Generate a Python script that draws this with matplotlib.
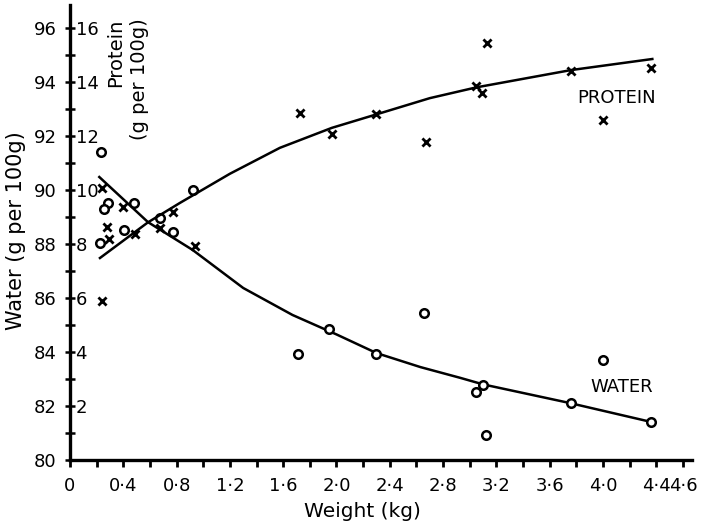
import numpy as np
import matplotlib
matplotlib.use("Agg")
import matplotlib.pyplot as plt

plt.rcParams['font.family'] = ['DejaVu Sans']

# water (g per 100g), open circles
water_w = [0.23, 0.285, 0.255, 0.48, 0.405, 0.225, 0.675, 0.77, 0.92, 1.71,
           1.94, 2.30, 2.66, 3.05, 3.10, 3.12, 3.76, 4.00, 4.36]
water_v = [91.4, 89.5, 89.3, 89.5, 88.5, 88.04, 88.96, 88.44, 90.0, 83.93,
           84.85, 83.93, 85.44, 82.52, 82.78, 80.93, 82.1, 83.7, 81.4]

# protein (g per 100g), crosses
protein_w = [0.24, 0.40, 0.28, 0.29, 0.49, 0.675, 0.77, 0.94, 0.24, 1.725,
             1.965, 2.30, 2.67, 3.05, 3.09, 3.13, 3.76, 4.00, 4.36]
protein_p = [10.07, 9.37, 8.63, 8.19, 8.37, 8.59, 9.17, 7.93, 5.89, 12.85,
             12.07, 12.8, 11.78, 13.85, 13.6, 15.44, 14.4, 12.6, 14.5]

# fitted curves
water_fit_w = [0.22, 0.585, 0.92, 1.3, 1.67, 2.0, 2.3, 2.63, 2.93, 3.1, 3.75, 4.36]
water_fit_v = [90.48, 88.81, 87.78, 86.37, 85.37, 84.65, 83.96, 83.44, 83.04,
               82.80, 82.11, 81.41]
protein_fit_w = [0.225, 0.585, 0.825, 1.2, 1.575, 1.965, 2.3, 2.7, 3.05, 3.76, 4.37]
protein_fit_p = [7.48, 8.8, 9.52, 10.6, 11.56, 12.3, 12.8, 13.4, 13.8, 14.44, 14.85]

x_ticks = np.arange(0, 4.61, 0.2)
x_labels = [0, 0.4, 0.8, 1.2, 1.6, 2.0, 2.4, 2.8, 3.2, 3.6, 4.0, 4.4, 4.6]
water_ticks = [80, 82, 84, 86, 88, 90, 92, 94, 96]
protein_ticks = [2, 4, 6, 8, 10, 12, 14, 16]

fig = plt.figure(figsize=(7.09, 5.26), dpi=100)
ax = fig.add_axes([0.0987, 0.1255, 0.877, 0.865])

ax.plot(water_fit_w, water_fit_v, color='black', lw=1.8, zorder=2)
ax.scatter(water_w, water_v, s=38, facecolors='white', edgecolors='black',
           linewidths=1.8, zorder=3)

ax.set_xlim(0, 4.666)
ax.set_ylim(80, 96.85)

for s in ['top', 'right']:
    ax.spines[s].set_visible(False)
for s in ['left', 'bottom']:
    ax.spines[s].set_linewidth(2.4)

ax.set_xticks(x_labels, [('0' if v == 0 else f"{v:.1f}".replace('.', '·')) for v in x_labels])
ax.set_xticks(x_ticks, minor=True)
ax.tick_params(axis='x', which='both', direction='out', length=5, width=2, labelsize=13, pad=7)

ax.set_yticks(water_ticks, [str(v) for v in water_ticks])
ax.set_yticks(np.arange(81, 97, 2), minor=True)
ax.tick_params(axis='y', which='both', direction='inout', length=7, width=1.8, labelsize=13, pad=6)

ax.set_xlabel('Weight (kg)', fontsize=14.5)
ax.xaxis.set_label_coords(0.47, -0.093)
ax.set_ylabel('Water (g per 100g)', fontsize=15)
ax.yaxis.set_label_coords(-0.07, 0.505)

# protein on its own scale, labels inside the left spine
ax2 = ax.twinx()
ax2.set_ylim(0, 16.85)
for s in ax2.spines.values():
    s.set_visible(False)
ax2.plot(protein_fit_w, protein_fit_p, color='black', lw=1.8, zorder=2)
ax2.scatter(protein_w, protein_p, s=34, marker='x', color='black',
            linewidths=2.0, zorder=3)
ax2.yaxis.tick_left()
ax2.set_yticks(protein_ticks, [str(v) for v in protein_ticks])
ax2.tick_params(axis='y', length=0, labelsize=13, pad=-4)
for lab in ax2.get_yticklabels():
    lab.set_horizontalalignment('left')

ax2.text(0.43, 14.1, 'Protein\n(g per 100g)', rotation=90, fontsize=14,
         ha='center', va='center', multialignment='right', linespacing=1.35)

ax2.text(4.1, 13.4, 'PROTEIN', fontsize=13, ha='center', va='center')
ax2.text(4.14, 2.7, 'WATER', fontsize=13, ha='center', va='center')

fig.savefig('out.png', dpi=100)
